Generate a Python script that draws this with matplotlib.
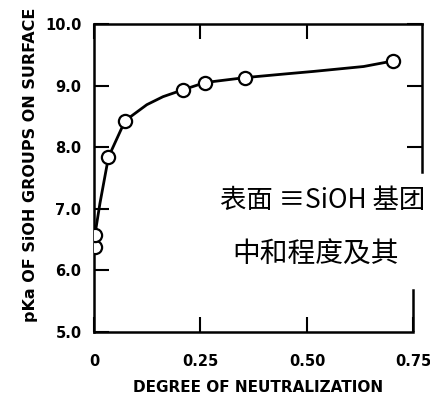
import matplotlib.pyplot as plt

# measured points
deg = [0.002, 0.002, 0.034, 0.073, 0.208, 0.261, 0.355, 0.702]
pka = [6.38, 6.57, 7.84, 8.43, 8.93, 9.05, 9.13, 9.40]

# hand drawn curve
curve_x = [0.002, 0.002, 0.014, 0.034, 0.073, 0.124, 0.162, 0.208, 0.261, 0.355, 0.45, 0.515, 0.633, 0.702]
curve_y = [6.38, 6.57, 7.09, 7.84, 8.43, 8.69, 8.82, 8.93, 9.05, 9.13, 9.19, 9.23, 9.31, 9.40]

xticks = [0, 0.25, 0.50, 0.75]
xlabels = ['0', '0.25', '0.50', '0.75']
yticks = [5, 6, 7, 8, 9, 10]
ylabels = ['5.0', '6.0', '7.0', '8.0', '9.0', '10.0']

fig = plt.figure(figsize=(4.31, 3.99), dpi=100)
ax = fig.add_axes([94 / 431, 1 - 332 / 399, (422 - 94) / 431, (332 - 24) / 399])

ax.plot(curve_x, curve_y, color='black', lw=2.0, zorder=2)
ax.plot(deg, pka, 'o', ms=9.5, mfc='white', mec='black', mew=1.6, zorder=3)

ax.set_xlim(0, 0.77)
ax.set_ylim(5, 10)
ax.set_xticks(xticks, xlabels)
ax.set_yticks(yticks, ylabels)

for s in ax.spines.values():
    s.set_linewidth(1.8)
ax.spines['right'].set_bounds(7.6, 10)
ax.spines['bottom'].set_bounds(0, 0.75)
ax.axvline(0.75, ymin=0, ymax=0.136, color='black', lw=1.8)

ax.tick_params(direction='in', length=11, width=1.5, top=True, right=True)
ax.tick_params(axis='y', pad=9, labelsize=10.5)
ax.tick_params(axis='x', pad=16, labelsize=10.5)
for lab in ax.get_xticklabels() + ax.get_yticklabels():
    lab.set_fontweight('bold')

# drop the ticks that the scan does not show
for t, v in zip(ax.yaxis.get_major_ticks(), yticks):
    if v < 8:
        t.tick2line.set_visible(False)
for t, v in zip(ax.xaxis.get_major_ticks(), xticks):
    if v == 0.75:
        t.tick2line.set_visible(False)

ax.set_xlabel('DEGREE OF NEUTRALIZATION', fontsize=11, fontweight='bold', labelpad=8)
fig.text(31 / 431, 1 - 165 / 399, 'pKa OF SiOH GROUPS ON SURFACE', rotation=90,
         fontsize=11.5, fontweight='bold', ha='center', va='center')

cjk = ['Noto Sans CJK SC', 'DejaVu Sans']
fig.text(220 / 431, 1 - 200 / 399, '表面 ≡SiOH 基团', fontsize=19, family=cjk,
         ha='left', va='center')
fig.text(232 / 431, 1 - 255 / 399, '中和程度及其', fontsize=20, family=cjk,
         ha='left', va='center')

plt.savefig('out.png', dpi=100)
